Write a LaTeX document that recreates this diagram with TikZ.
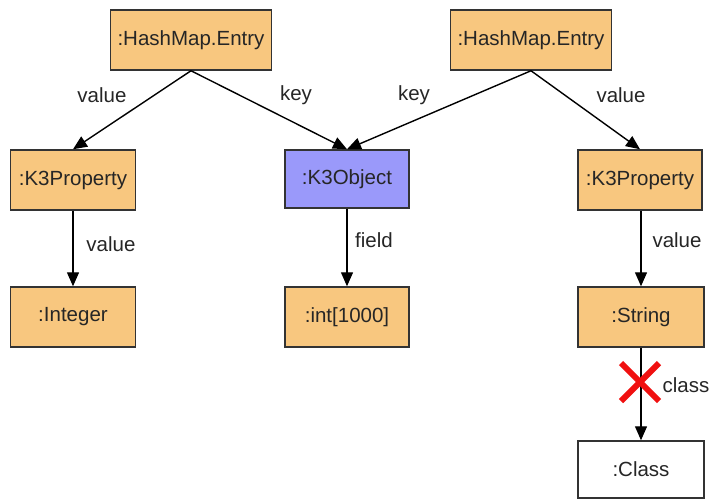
\documentclass[tikz,border=0pt]{standalone}
\usepackage{fontspec}
\setmainfont{Liberation Sans}
\usetikzlibrary{arrows.meta}
\definecolor{objorange}{HTML}{F8C77F}
\definecolor{objblue}{HTML}{9A99FA}
\definecolor{edgegray}{HTML}{333333}
\definecolor{crossred}{HTML}{F01010}
\tikzset{
  obj/.style={draw=edgegray, line width=1.5pt, fill=objorange, minimum height=60pt, inner sep=0pt, font=\fontsize{20.5}{24}\selectfont, text=black!85},
  objb/.style={obj, fill=objblue},
  objw/.style={obj, fill=white},
  conn/.style={draw=black, line width=1.4pt, -{Triangle[length=14pt,width=12pt]}},
  lbl/.style={font=\fontsize{20.5}{24}\selectfont, text=black!85, inner sep=0pt},
  cross/.style={draw=crossred, line width=6pt}
}
\begin{document}
\begin{tikzpicture}[x=1pt,y=-1pt]
\useasboundingbox (0,0) rectangle (710,499);
\node[obj, minimum width=161pt] (h1) at (191,40) {:HashMap.Entry};
\node[obj, minimum width=161pt] (h2) at (531,40) {:HashMap.Entry};
\node[obj, minimum width=125pt] (p1) at (73,180) {:K3Property};
\node[objb, minimum width=124pt, minimum height=58pt] (k) at (347,179) {:K3Object};
\node[obj, minimum width=124pt] (p2) at (640,180) {:K3Property};
\node[obj, minimum width=125pt] (i) at (73,317) {:Integer};
\node[obj, minimum width=124pt] (a) at (347,317) {:int[1000]};
\node[obj, minimum width=126pt] (s) at (641,317) {:String};
\node[objw, minimum width=126pt, minimum height=57pt] (c) at (641,469.5) {:Class};

\draw[conn] (h1.south) -- (p1.north);
\draw[conn] (h1.south) -- (k.north);
\draw[conn] (h2.south) -- (k.north);
\draw[conn] (h2.south) -- (p2.north);
\draw[conn] (p1.south) -- (i.north);
\draw[conn] (k.south) -- (a.north);
\draw[conn] (p2.south -| s.north) -- (s.north);
\draw[conn] (s.south) -- (c.north);

\node[lbl] (l1) at (102,95) {value};
\node[lbl] (l2) at (296,95) {key};
\node[lbl] (l3) at (414,95) {key};
\node[lbl] (l4) at (621,95) {value};
\node[lbl] (l5) at (111,244) {value};
\node[lbl] (l6) at (374,240) {field};
\node[lbl] (l7) at (677,240) {value};
\node[lbl] (l8) at (686,385) {class};

\coordinate (xc) at (640,382);
\draw[cross] ([shift={(-19,-19)}]xc) -- ([shift={(19,19)}]xc);
\draw[cross] ([shift={(19,-19)}]xc) -- ([shift={(-19,19)}]xc);
\end{tikzpicture}
\end{document}
